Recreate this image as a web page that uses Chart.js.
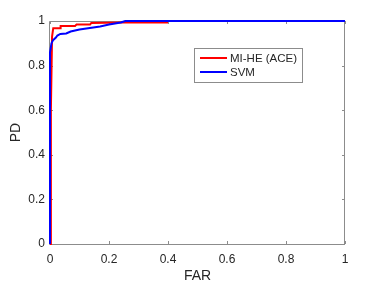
<!DOCTYPE html>
<html>
<head>
<meta charset="utf-8">
<script src="https://cdn.jsdelivr.net/npm/chart.js@4.4.1/dist/chart.umd.min.js"></script>
<style>
html, body { margin: 0; padding: 0; background: #ffffff; }
</style>
</head>
<body>
<canvas id="roc" width="382" height="288"></canvas>
<script>
// ROC curves: FAR (x) against PD (y)
var seriesNames  = ["MI-HE (ACE)", "SVM"];
var seriesColors = ["#ff0000", "#0000ff"];

var miheFar = [0, 0.003, 0.007, 0.011, 0.034, 0.036, 0.085, 0.09, 0.136, 0.14, 0.24, 0.4];
var mihePd  = [0, 0.6,   0.93,  0.968, 0.968, 0.978, 0.978, 0.984, 0.984, 0.991, 0.993, 0.993];

var svmFar = [0, 0, 0.005, 0.01, 0.02, 0.025, 0.035, 0.055, 0.07, 0.1, 0.135, 0.17, 0.2, 0.24, 0.255, 1];
var svmPd  = [0, 0.86, 0.9, 0.913, 0.926, 0.935, 0.942, 0.944, 0.953, 0.962, 0.969, 0.975, 0.984, 0.993, 1, 1];

var xTicks = [0, 0.2, 0.4, 0.6, 0.8, 1];
var yTicks = [0, 0.2, 0.4, 0.6, 0.8, 1];

var AXIS_COL = "#8c8c8c";
var TEXT_COL = "#262626";
var FONT = "'Liberation Sans', Arial, Helvetica, sans-serif";

var toPoints = function( xs, ys ){
    var pts = [];
    for( var i = 0; i < xs.length; i++ ){
        pts.push({ x: xs[i], y: ys[i] });
    }
    return pts;
};

var fmt = function( v ){
    return String( Math.round( v * 10 ) / 10 );
};

// matlab style box with inward ticks
var boxPlugin = {
    id: "box",
    beforeDatasetsDraw: function( chart ){
        var ctx = chart.ctx, a = chart.chartArea;
        var xs = chart.scales.x, ys = chart.scales.y;
        var tl = 3;
        ctx.save();
        ctx.strokeStyle = AXIS_COL;
        ctx.lineWidth = 1;
        ctx.beginPath();
        ctx.rect( Math.round(a.left) - 0.5, Math.round(a.top) + 0.5,
                  Math.round(a.right - a.left), Math.round(a.bottom - a.top) );
        xTicks.forEach(function( t ){
            var px = Math.round( xs.getPixelForValue( t ) ) + 0.5;
            ctx.moveTo( px, a.bottom ); ctx.lineTo( px, a.bottom - tl );
            ctx.moveTo( px, a.top );    ctx.lineTo( px, a.top + tl );
        });
        yTicks.forEach(function( t ){
            var py = Math.round( ys.getPixelForValue( t ) ) + 0.5;
            ctx.moveTo( a.left, py );  ctx.lineTo( a.left + tl, py );
            ctx.moveTo( a.right, py ); ctx.lineTo( a.right - tl, py );
        });
        ctx.stroke();
        ctx.restore();
    },
    afterDraw: function( chart ){
        // legend box inside the axes
        var ctx = chart.ctx;
        var bx = 194.5, by = 48.5, bw = 108, bh = 34;
        ctx.save();
        ctx.fillStyle = "#ffffff";
        ctx.fillRect( bx, by, bw, bh );
        ctx.strokeStyle = AXIS_COL;
        ctx.lineWidth = 1;
        ctx.strokeRect( bx, by, bw, bh );
        ctx.font = "11.5px " + FONT;
        ctx.textBaseline = "middle";
        for( var i = 0; i < seriesNames.length; i++ ){
            var ly = 58 + i * 14;
            ctx.strokeStyle = seriesColors[i];
            ctx.lineWidth = 2;
            ctx.beginPath();
            ctx.moveTo( 200, ly ); ctx.lineTo( 227, ly );
            ctx.stroke();
            ctx.fillStyle = TEXT_COL;
            ctx.fillText( seriesNames[i], 230, ly + 0.5 );
        }
        ctx.restore();
    }
};

var ctx = document.getElementById("roc").getContext("2d");
var rocChart = new Chart(ctx, {
    type: "scatter",
    data: {
        datasets: [
            {
                label: seriesNames[0],
                data: toPoints( miheFar, mihePd ),
                showLine: true,
                borderColor: seriesColors[0],
                backgroundColor: seriesColors[0],
                borderWidth: 2,
                pointRadius: 0,
                clip: 4,
                order: 2
            },
            {
                label: seriesNames[1],
                data: toPoints( svmFar, svmPd ),
                showLine: true,
                borderColor: seriesColors[1],
                backgroundColor: seriesColors[1],
                borderWidth: 2,
                pointRadius: 0,
                clip: 4,
                order: 1
            }
        ]
    },
    options: {
        responsive: false,
        animation: false,
        devicePixelRatio: 1,
        layout: { padding: { top: 21, right: 37, bottom: 0, left: 0 } },
        plugins: {
            legend: { display: false },
            tooltip: { enabled: false }
        },
        scales: {
            x: {
                type: "linear",
                min: 0,
                max: 1,
                afterBuildTicks: function( s ){ s.ticks = xTicks.map(function(v){ return { value: v }; }); },
                afterFit: function( s ){ s.height = 44; },
                grid: { display: false, drawTicks: false },
                border: { display: false },
                ticks: {
                    padding: 8,
                    maxRotation: 0,
                    color: TEXT_COL,
                    font: { family: FONT, size: 12 },
                    callback: function( v ){ return fmt( v ); }
                },
                title: {
                    display: true,
                    text: "FAR",
                    color: TEXT_COL,
                    font: { family: FONT, size: 14 },
                    padding: { top: 0, bottom: 3 }
                }
            },
            y: {
                type: "linear",
                min: 0,
                max: 1,
                afterBuildTicks: function( s ){ s.ticks = yTicks.map(function(v){ return { value: v }; }); },
                afterFit: function( s ){ s.width = 50; },
                grid: { display: false, drawTicks: false },
                border: { display: false },
                ticks: {
                    padding: 5,
                    color: TEXT_COL,
                    font: { family: FONT, size: 12 },
                    callback: function( v ){ return fmt( v ); }
                },
                title: {
                    display: true,
                    text: "PD",
                    color: TEXT_COL,
                    font: { family: FONT, size: 14 },
                    padding: { top: 7.5, bottom: 0 }
                }
            }
        }
    },
    plugins: [ boxPlugin ]
});
</script>
</body>
</html>
